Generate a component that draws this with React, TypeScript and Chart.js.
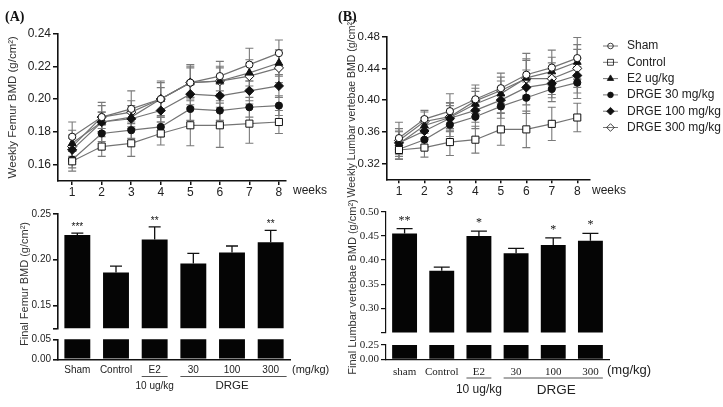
import React, { useEffect, useRef } from 'react';
import { Chart, registerables } from 'chart.js';
import { drawPoint } from 'chart.js/helpers';

Chart.register(...registerables);

const W = 723;
const H = 407;
const SANS = 'Arial, "Liberation Sans", Helvetica, sans-serif';
const SERIF = '"Times New Roman", "Liberation Serif", serif';

// ---------------- data ----------------
const weeks = [1, 2, 3, 4, 5, 6, 7, 8];
const seriesLabels = ['Sham', 'Control', 'E2 ug/kg', 'DRGE 30 mg/kg', 'DRGE 100 mg/kg', 'DRGE 300 mg/kg'];

// Weekly femur BMD (g/cm2)
const femurSham = [0.177, 0.189, 0.194, 0.200, 0.210, 0.214, 0.221, 0.228];
const femurControl = [0.162, 0.171, 0.173, 0.179, 0.184, 0.184, 0.185, 0.186];
const femurE2 = [0.173, 0.186, 0.189, 0.200, 0.210, 0.211, 0.216, 0.222];
const femurD30 = [0.163, 0.179, 0.181, 0.183, 0.194, 0.193, 0.195, 0.196];
const femurD100 = [0.169, 0.186, 0.188, 0.193, 0.203, 0.202, 0.205, 0.208];
const femurD300 = [0.171, 0.189, 0.192, 0.200, 0.210, 0.211, 0.214, 0.219];

const femurShamErr = [0.009, 0.009, 0.011, 0.011, 0.011, 0.009, 0.010, 0.008];
const femurControlErr = [0.006, 0.006, 0.008, 0.007, 0.0125, 0.0135, 0.012, 0.007];
const femurE2Err = [0.008, 0.006, 0.007, 0.010, 0.010, 0.008, 0.008, 0.008];
const femurD30Err = [0.005, 0.005, 0.005, 0.006, 0.007, 0.006, 0.006, 0.006];
const femurD100Err = [0.007, 0.006, 0.006, 0.007, 0.008, 0.007, 0.006, 0.007];
const femurD300Err = [0.007, 0.007, 0.007, 0.007, 0.009, 0.009, 0.008, 0.009];

// Weekly lumbar vertebrae BMD (g/cm2)
const lumbarSham = [0.352, 0.376, 0.386, 0.401, 0.415, 0.432, 0.441, 0.453];
const lumbarControl = [0.337, 0.340, 0.347, 0.350, 0.363, 0.363, 0.370, 0.378];
const lumbarE2 = [0.345, 0.368, 0.378, 0.395, 0.408, 0.428, 0.436, 0.448];
const lumbarD30 = [0.338, 0.350, 0.369, 0.379, 0.392, 0.403, 0.414, 0.422];
const lumbarD100 = [0.346, 0.361, 0.377, 0.387, 0.400, 0.416, 0.421, 0.431];
const lumbarD300 = [0.349, 0.373, 0.379, 0.399, 0.412, 0.427, 0.427, 0.440];

const lumbarShamErr = [0.020, 0.011, 0.022, 0.018, 0.019, 0.027, 0.022, 0.026];
const lumbarControlErr = [0.012, 0.012, 0.017, 0.017, 0.020, 0.023, 0.021, 0.018];
const lumbarE2Err = [0.016, 0.010, 0.018, 0.016, 0.016, 0.022, 0.018, 0.022];
const lumbarD30Err = [0.012, 0.010, 0.015, 0.015, 0.015, 0.020, 0.016, 0.020];
const lumbarD100Err = [0.014, 0.010, 0.016, 0.015, 0.016, 0.022, 0.018, 0.022];
const lumbarD300Err = [0.015, 0.012, 0.018, 0.016, 0.017, 0.025, 0.020, 0.024];

const femurWeeklyTicks = [0.16, 0.18, 0.20, 0.22, 0.24];
const lumbarWeeklyTicks = [0.32, 0.36, 0.40, 0.44, 0.48];

// Final BMD bars
const groupsA = ['Sham', 'Control', 'E2', '30', '100', '300'];
const groupsB = ['sham', 'Control', 'E2', '30', '100', '300'];
const femurFinal = [0.227, 0.186, 0.222, 0.196, 0.208, 0.219];
const femurFinalErr = [0.002, 0.007, 0.014, 0.011, 0.007, 0.013];
const femurStars = ['***', '', '**', '', '', '**'];
const lumbarFinal = [0.455, 0.378, 0.450, 0.414, 0.431, 0.440];
const lumbarFinalErr = [0.010, 0.0075, 0.010, 0.010, 0.015, 0.015];
const lumbarStars = ['**', '', '*', '', '*', '*'];

const femurUpperTicks = [0.125, 0.15, 0.20, 0.25];
const femurLowerTicks = [0, 0.05];
const lumbarUpperTicks = [0.25, 0.30, 0.35, 0.40, 0.45, 0.50];
const lumbarLowerTicks = [0, 0.25];

// ---------------- styles ----------------
const markers = [
  { style: 'circle', radius: 3.6, filled: false },
  { style: 'rect', radius: 5, filled: false },
  { style: 'triangle', radius: 4.5, filled: true },
  { style: 'circle', radius: 3.6, filled: true },
  { style: 'rectRot', radius: 4.6, filled: true },
  { style: 'rectRot', radius: 4.6, filled: false },
];

// ---------------- plugins ----------------
function drawErrors(chart: any, opts: any) {
  const ctx = chart.ctx;
  const ys = chart.scales.y;
  ctx.save();
  ctx.strokeStyle = opts.color;
  ctx.lineWidth = opts.width;
  chart.data.datasets.forEach((ds: any, i: number) => {
    if (!ds.errors) return;
    const meta = chart.getDatasetMeta(i);
    meta.data.forEach((el: any, j: number) => {
      const d = ds.data[j];
      const v = typeof d === 'number' ? d : d.y;
      const e = ds.errors[j];
      const x = el.x;
      const yTop = ys.getPixelForValue(v + e);
      const yBot = opts.both ? ys.getPixelForValue(v - e) : ys.getPixelForValue(v);
      ctx.beginPath();
      ctx.moveTo(x, yTop);
      ctx.lineTo(x, yBot);
      ctx.moveTo(x - opts.cap, yTop);
      ctx.lineTo(x + opts.cap, yTop);
      if (opts.both) {
        ctx.moveTo(x - opts.cap, yBot);
        ctx.lineTo(x + opts.cap, yBot);
      }
      ctx.stroke();
    });
  });
  ctx.restore();
}

const errorBarPlugin = {
  id: 'errorBars',
  beforeDatasetsDraw(chart: any, _a: any, opts: any) {
    if (opts && opts.phase === 'before') drawErrors(chart, opts);
  },
  afterDatasetsDraw(chart: any, _a: any, opts: any) {
    if (opts && opts.phase === 'after') drawErrors(chart, opts);
  },
};

const starsPlugin = {
  id: 'stars',
  afterDatasetsDraw(chart: any, _a: any, opts: any) {
    if (!opts || !opts.font) return;
    const ctx = chart.ctx;
    const ys = chart.scales.y;
    const ds = chart.data.datasets[0];
    const meta = chart.getDatasetMeta(0);
    ctx.save();
    ctx.fillStyle = '#111';
    ctx.font = opts.font;
    ctx.textAlign = 'center';
    ctx.textBaseline = 'alphabetic';
    meta.data.forEach((el: any, j: number) => {
      const s = ds.stars[j];
      if (!s) return;
      const y = ys.getPixelForValue(ds.data[j] + ds.errors[j]);
      ctx.fillText(s, el.x, y - opts.gap);
    });
    ctx.restore();
  },
};

function text(ctx: any, s: string, x: number, y: number, font: string, align = 'left', color = '#222') {
  ctx.save();
  ctx.font = font;
  ctx.fillStyle = color;
  ctx.textAlign = align;
  ctx.textBaseline = 'middle';
  ctx.fillText(s, x, y);
  ctx.restore();
}

function vtext(ctx: any, s: string, x: number, y: number, font: string, color = '#333') {
  ctx.save();
  ctx.translate(x, y);
  ctx.rotate(-Math.PI / 2);
  ctx.font = font;
  ctx.fillStyle = color;
  ctx.textAlign = 'center';
  ctx.textBaseline = 'middle';
  ctx.fillText(s, 0, 0);
  ctx.restore();
}

function hline(ctx: any, x1: number, x2: number, y: number, color = '#555') {
  ctx.save();
  ctx.strokeStyle = color;
  ctx.lineWidth = 1;
  ctx.beginPath();
  ctx.moveTo(x1, y);
  ctx.lineTo(x2, y);
  ctx.stroke();
  ctx.restore();
}

// ---------------- configs ----------------
function lineConfig(o: any) {
  const xHeight = 19;
  return {
    type: 'line',
    data: {
      datasets: seriesLabels.map((label, i) => ({
        label,
        data: weeks.map((w, j) => ({ x: w, y: o.values[i][j] })),
        errors: o.errors[i],
        borderColor: '#747474',
        borderWidth: 1.2,
        pointStyle: markers[i].style,
        pointRadius: markers[i].radius,
        pointBackgroundColor: markers[i].filled ? '#111' : '#fff',
        pointBorderColor: '#111',
        pointBorderWidth: 1,
        tension: 0,
        fill: false,
      })),
    },
    options: {
      responsive: false,
      animation: false,
      devicePixelRatio: 1,
      events: [],
      layout: {
        padding: {
          left: o.area.left - o.yWidth,
          right: W - o.area.right,
          top: o.area.top,
          bottom: H - o.area.bottom - xHeight,
        },
      },
      plugins: {
        legend: { display: false },
        tooltip: { enabled: false },
        errorBars: { phase: 'before', both: true, color: '#7a7a7a', width: 1.1, cap: 4 },
        stars: false,
      },
      scales: {
        x: {
          type: 'linear',
          min: o.xMin,
          max: o.xMax,
          afterBuildTicks: (s: any) => {
            s.ticks = weeks.map((v) => ({ value: v }));
          },
          afterFit: (s: any) => {
            s.height = xHeight;
          },
          ticks: {
            font: { family: SANS, size: 12, lineHeight: 1 },
            color: '#222',
            padding: 2,
            maxRotation: 0,
            autoSkip: false,
            callback: (v: any) => String(v),
          },
          grid: { drawOnChartArea: false, tickLength: 4, color: '#111', lineWidth: 1.5 },
          border: { color: '#111', width: 1.6 },
        },
        y: {
          type: 'linear',
          min: o.yMin,
          max: o.yMax,
          afterBuildTicks: (s: any) => {
            s.ticks = o.yTicks.map((v: number) => ({ value: v }));
          },
          afterFit: (s: any) => {
            s.width = o.yWidth;
          },
          ticks: {
            font: { family: SANS, size: o.tickSize },
            color: '#222',
            padding: 2,
            autoSkip: false,
            callback: (v: any) => Number(v).toFixed(2),
          },
          grid: { drawOnChartArea: false, tickLength: 5, color: '#111', lineWidth: 1.5 },
          border: { color: '#111', width: 1.6 },
          title: {
            display: true,
            text: o.title,
            font: { family: SANS, size: o.titleSize },
            color: '#333',
            padding: { top: 0, bottom: 0 },
          },
        },
      },
    },
    plugins: [errorBarPlugin, o.extra],
  };
}

function barConfig(o: any) {
  return {
    type: 'bar',
    data: {
      labels: o.labels,
      datasets: [
        {
          data: o.values,
          errors: o.errors,
          stars: o.stars,
          backgroundColor: '#050505',
          borderWidth: 0,
          barPercentage: o.barPct,
          categoryPercentage: 1,
          clip: 0,
        },
      ],
    },
    options: {
      responsive: false,
      animation: false,
      devicePixelRatio: 1,
      events: [],
      layout: {
        padding: {
          left: o.area.left - o.yWidth,
          right: W - o.area.right,
          top: o.area.top,
          bottom: H - o.area.bottom - (o.showX ? o.xHeight : 0),
        },
      },
      plugins: {
        legend: { display: false },
        tooltip: { enabled: false },
        errorBars: o.errorBars,
        stars: o.starsOpt,
      },
      scales: {
        x: {
          display: o.showX,
          afterFit: o.showX
            ? (s: any) => {
                s.height = o.xHeight;
              }
            : undefined,
          grid: { display: false, drawTicks: false },
          border: { display: true, color: '#111', width: o.axisWidth },
          ticks: {
            font: o.labelFont,
            color: '#222',
            padding: o.labelPad,
            autoSkip: false,
            maxRotation: 0,
          },
        },
        y: {
          type: 'linear',
          min: o.yMin,
          max: o.yMax,
          afterBuildTicks: (s: any) => {
            s.ticks = o.yTicks.map((v: number) => ({ value: v }));
          },
          afterFit: (s: any) => {
            s.width = o.yWidth;
          },
          ticks: {
            font: o.tickFont,
            color: '#222',
            padding: 2,
            autoSkip: false,
            callback: (v: any, i: number) => (o.blankFirst && i === 0 ? '' : Number(v).toFixed(2)),
          },
          grid: { drawOnChartArea: false, tickLength: 5, color: '#111', lineWidth: o.axisWidth },
          border: { color: '#111', width: o.axisWidth },
        },
      },
    },
    plugins: [errorBarPlugin, starsPlugin, o.extra].filter(Boolean),
  };
}

// ---------------- decorations ----------------
const decorTopA = {
  id: 'decorTopA',
  afterDraw(chart: any) {
    const ctx = chart.ctx;
    text(ctx, '(A)', 5, 17, `bold 14px ${SERIF}`, 'left', '#111');
    text(ctx, 'weeks', 293, 191, `12px ${SANS}`, 'left');
  },
};

const decorTopB = {
  id: 'decorTopB',
  afterDraw(chart: any) {
    const ctx = chart.ctx;
    text(ctx, '(B)', 338, 17, `bold 14px ${SERIF}`, 'left', '#111');
    text(ctx, 'weeks', 592, 191, `12px ${SANS}`, 'left');
    // legend
    chart.data.datasets.forEach((ds: any, i: number) => {
      const y = 46 + i * 16.3;
      ctx.save();
      ctx.strokeStyle = '#747474';
      ctx.lineWidth = 1;
      ctx.beginPath();
      ctx.moveTo(603, y);
      ctx.lineTo(618, y);
      ctx.stroke();
      ctx.strokeStyle = '#111';
      ctx.fillStyle = markers[i].filled ? '#111' : 'rgba(0,0,0,0)';
      ctx.lineWidth = 0.8;
      drawPoint(ctx, { pointStyle: markers[i].style, radius: markers[i].radius - 0.8, rotation: 0, borderWidth: 0.8 }, 610.5, y);
      ctx.restore();
      text(ctx, ds.label, 627, y, `12px ${SANS}`, 'left');
    });
  },
};

const decorBotA = {
  id: 'decorBotA',
  afterDraw(chart: any) {
    const ctx = chart.ctx;
    const els = chart.getDatasetMeta(0).data;
    const hw = els[0].width / 2;
    vtext(ctx, 'Final Femur BMD (g/cm²)', 25, 284, `11px ${SANS}`);
    text(ctx, '(mg/kg)', 292, 370, `11px ${SANS}`, 'left');
    hline(ctx, els[2].x - hw, els[2].x + hw, 376.5);
    hline(ctx, els[3].x - hw, els[5].x + hw + 3, 376.5);
    text(ctx, '10 ug/kg', els[2].x, 386, `10px ${SANS}`, 'center');
    text(ctx, 'DRGE', els[4].x, 386, `11.5px ${SANS}`, 'center');
  },
};

const decorBotB = {
  id: 'decorBotB',
  afterDraw(chart: any) {
    const ctx = chart.ctx;
    const els = chart.getDatasetMeta(0).data;
    const hw = els[0].width / 2;
    vtext(ctx, 'Final Lumbar vertebae BMD (g/cm²)', 353, 287, `11px ${SANS}`);
    text(ctx, '(mg/kg)', 607, 370, `13px ${SANS}`, 'left');
    hline(ctx, els[2].x - hw, els[2].x + hw, 378);
    hline(ctx, els[3].x - hw, els[5].x + hw, 378);
    text(ctx, '10 ug/kg', els[2].x, 390, `12px ${SANS}`, 'center');
    text(ctx, 'DRGE', els[4].x + 3, 390, `13.5px ${SANS}`, 'center');
  },
};

// ---------------- chart definitions ----------------
const makers: Array<() => any> = [
  () =>
    lineConfig({
      values: [femurSham, femurControl, femurE2, femurD30, femurD100, femurD300],
      errors: [femurShamErr, femurControlErr, femurE2Err, femurD30Err, femurD100Err, femurD300Err],
      yMin: 0.15,
      yMax: 0.24,
      yTicks: femurWeeklyTicks,
      xMin: 0.52,
      xMax: 8.24,
      area: { left: 58, right: 286, top: 33.5, bottom: 181 },
      yWidth: 52,
      title: 'Weekly Femur BMD (g/cm²)',
      titleSize: 11.5,
      tickSize: 12,
      extra: decorTopA,
    }),
  () =>
    lineConfig({
      values: [lumbarSham, lumbarControl, lumbarE2, lumbarD30, lumbarD100, lumbarD300],
      errors: [lumbarShamErr, lumbarControlErr, lumbarE2Err, lumbarD30Err, lumbarD100Err, lumbarD300Err],
      yMin: 0.3,
      yMax: 0.48,
      yTicks: lumbarWeeklyTicks,
      xMin: 0.53,
      xMax: 8.5,
      area: { left: 387, right: 590, top: 36.7, bottom: 179.3 },
      yWidth: 41.6,
      title: 'Weekly Lumbar vertebae BMD (g/cm²)',
      titleSize: 10.5,
      tickSize: 11.5,
      extra: decorTopB,
    }),
  () =>
    barConfig({
      labels: groupsA,
      values: femurFinal,
      errors: femurFinalErr,
      stars: femurStars,
      yMin: 0.125,
      yMax: 0.25,
      yTicks: femurUpperTicks,
      blankFirst: true,
      area: { left: 58, right: 290, top: 214, bottom: 328.3 },
      yWidth: 52,
      barPct: 0.67,
      showX: false,
      axisWidth: 1.6,
      tickFont: { family: SANS, size: 10 },
      labelFont: { family: SANS, size: 10 },
      labelPad: 5,
      errorBars: { phase: 'after', both: false, color: '#111', width: 1.3, cap: 6 },
      starsOpt: { font: `10px ${SANS}`, gap: 3 },
    }),
  () =>
    barConfig({
      labels: groupsA,
      values: femurFinal,
      errors: femurFinalErr,
      stars: femurStars,
      yMin: 0,
      yMax: 0.05,
      yTicks: femurLowerTicks,
      blankFirst: false,
      area: { left: 58, right: 290, top: 339.3, bottom: 359.3 },
      yWidth: 52,
      barPct: 0.67,
      showX: true,
      xHeight: 20,
      axisWidth: 1.6,
      tickFont: { family: SANS, size: 10 },
      labelFont: { family: SANS, size: 10 },
      labelPad: 5,
      errorBars: false,
      starsOpt: false,
      extra: decorBotA,
    }),
  () =>
    barConfig({
      labels: groupsB,
      values: lumbarFinal,
      errors: lumbarFinalErr,
      stars: lumbarStars,
      yMin: 0.25,
      yMax: 0.5,
      yTicks: lumbarUpperTicks,
      blankFirst: true,
      area: { left: 386, right: 609, top: 211.7, bottom: 332.6 },
      yWidth: 30,
      barPct: 0.67,
      showX: false,
      axisWidth: 1.2,
      tickFont: { family: SERIF, size: 11 },
      labelFont: { family: SERIF, size: 11 },
      labelPad: 6,
      errorBars: { phase: 'after', both: false, color: '#111', width: 1.3, cap: 8 },
      starsOpt: { font: `12px ${SERIF}`, gap: 5 },
    }),
  () =>
    barConfig({
      labels: groupsB,
      values: lumbarFinal,
      errors: lumbarFinalErr,
      stars: lumbarStars,
      yMin: 0,
      yMax: 0.25,
      yTicks: lumbarLowerTicks,
      blankFirst: false,
      area: { left: 386, right: 609, top: 345, bottom: 359.3 },
      yWidth: 30,
      barPct: 0.67,
      showX: true,
      xHeight: 20,
      axisWidth: 1.2,
      tickFont: { family: SERIF, size: 11 },
      labelFont: { family: SERIF, size: 11 },
      labelPad: 6,
      errorBars: false,
      starsOpt: false,
      extra: decorBotB,
    }),
];

function ChartCanvas({ make }: { make: () => any }) {
  const ref = useRef<HTMLCanvasElement | null>(null);
  useEffect(() => {
    if (!ref.current) return;
    const chart = new Chart(ref.current, make());
    return () => chart.destroy();
  }, [make]);
  return (
    <canvas
      ref={ref}
      width={W}
      height={H}
      style={{ position: 'absolute', left: 0, top: 0, width: W, height: H, display: 'block' }}
    />
  );
}

export default function App() {
  return (
    <div style={{ position: 'absolute', left: 0, top: 0, width: W, height: H, background: '#fff', overflow: 'hidden' }}>
      {makers.map((m, i) => (
        <ChartCanvas key={i} make={m} />
      ))}
    </div>
  );
}
